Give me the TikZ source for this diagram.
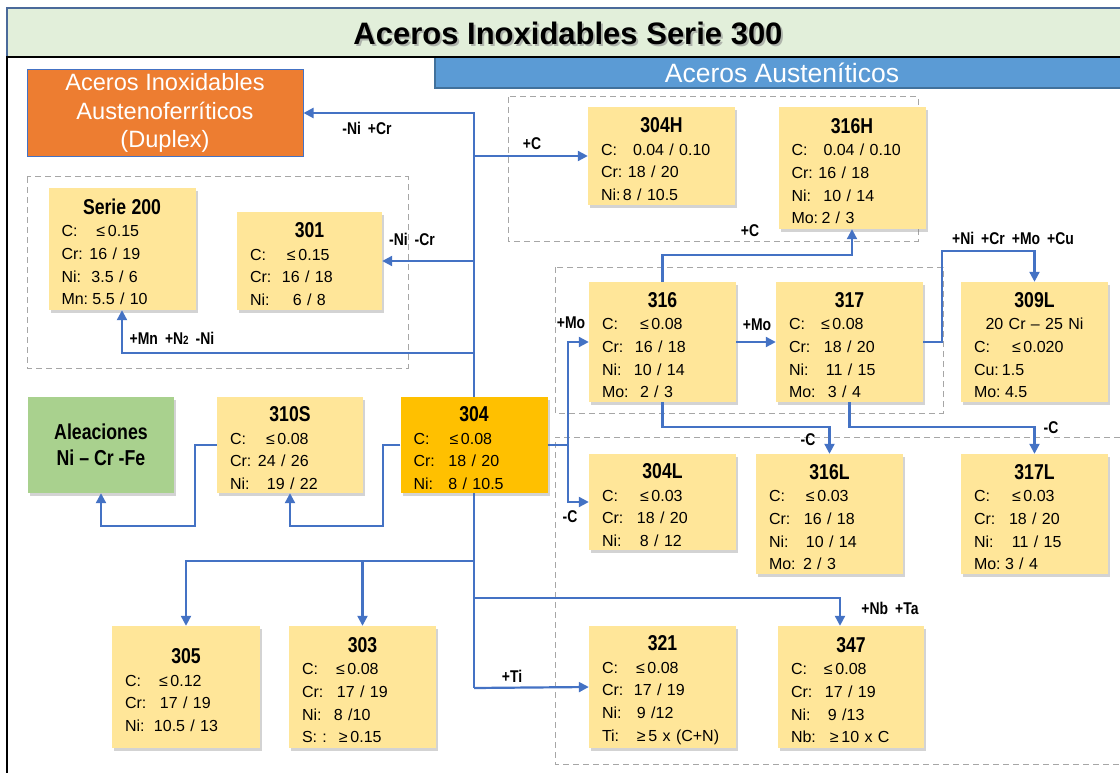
\documentclass[tikz,border=0pt]{standalone}
\usepackage{fontspec}
\setmainfont{Liberation Sans}
\newfontfamily\nb[FakeStretch=0.82]{Liberation Sans}
\usetikzlibrary{arrows.meta,shadows}
\definecolor{lineblue}{HTML}{4472C4}
\definecolor{boxyellow}{HTML}{FFE699}
\definecolor{boxorange}{HTML}{FFC000}
\definecolor{boxgreen}{HTML}{A9D18E}
\definecolor{duplexorange}{HTML}{ED7D31}
\definecolor{titlegreen}{HTML}{E2EFDA}
\definecolor{bannerblue}{HTML}{5B9BD5}
\definecolor{bannerdark}{HTML}{41719C}
\definecolor{dashgray}{HTML}{A6A6A6}
\definecolor{frameblue}{HTML}{4A6A9A}
\newcommand\ttl[1]{\rule{0pt}{21pt}\hfill{\nb\bfseries\fontsize{21.5}{22.7}\selectfont #1}\hfill\null}
\newcommand\rw[3]{\makebox[#1pt][l]{#2}#3}
\newcommand\gp{\hspace{7pt}}
\tikzset{
  conn/.style={draw=lineblue, line width=2.2pt},
  arr/.style={conn, -{Triangle[length=10pt,width=10pt]}},
  ybox/.style={fill=boxyellow, minimum width=147pt, inner xsep=13pt, inner ysep=0pt,
    text width=121pt, align=left, font=\fontsize{16}{22.7}\selectfont,
    drop shadow={opacity=0.35, shadow xshift=2pt, shadow yshift=-3pt}},
  lbl/.style={font=\nb\bfseries\fontsize{17}{18}\selectfont, inner sep=0pt},
  grp/.style={draw=dashgray, line width=1pt, dash pattern=on 6pt off 4pt},
}
\begin{document}
\begin{tikzpicture}[x=1pt,y=-1pt]
\useasboundingbox (0,0) rectangle (1120,773);
% frame and title
\fill[titlegreen] (7,8) rectangle (1125,57);
\draw[frameblue, line width=1.5pt] (7,57) -- (7,8) -- (1125,8);
\node[font=\bfseries\fontsize{31}{33}\selectfont, text=black!45, opacity=0.6] (titleshadow) at (570,35) {Aceros Inoxidables Serie 300};
\node[font=\bfseries\fontsize{31}{33}\selectfont] (title) at (568,33) {Aceros Inoxidables Serie 300};
\fill[bannerblue] (435,58) rectangle (1125,88);
\draw[bannerdark, line width=1.2pt] (435,58) -- (435,88) -- (1125,88);
\node[text=white, font=\fontsize{26.5}{28}\selectfont] (banner) at (782,73) {Aceros Austeníticos};
\draw[black, line width=2pt] (7,57) -- (1125,57);
\draw[black, line width=2pt] (7,56) -- (7,775);
% dashed groups
\draw[grp] (27,177) rectangle (408,368);
\draw[grp] (508,97) rectangle (918,241);
\draw[grp] (555,267) rectangle (943,413);
\draw[grp] (1130,437) -- (555,437) -- (555,764) -- (1130,764);
% boxes
\node[fill=duplexorange, draw=lineblue, line width=1pt, minimum width=276pt, minimum height=87pt,
  text=white, align=center, font=\fontsize{23.6}{28.5}\selectfont] (duplex) at (165,113)
  {Aceros Inoxidables\\Austenoferríticos\\(Duplex)};
\node[ybox, minimum height=122pt] (s200) at (122,249)
  {\ttl{Serie 200}\\\rw{35}{C:}{≤\,0.15}\\\rw{28}{Cr:}{16 / 19}\\\rw{30}{Ni:}{3.5 / 6}\\\rw{31}{Mn:}{5.5 / 10}};
\node[ybox, minimum width=145pt, text width=119pt, minimum height=98pt] (s301) at (309.5,261)
  {\ttl{301}\\\rw{37}{C:}{≤\,0.15}\\\rw{32}{Cr:}{16 / 18}\\\rw{43}{Ni:}{6 / 8}};
\node[ybox, minimum height=98pt] (s304H) at (661.5,156)
  {\ttl{304H}\\\rw{32}{C:}{0.04 / 0.10}\\\rw{27}{Cr:}{18 / 20}\\\rw{22}{Ni:}{8 / 10.5}};
\node[ybox, minimum height=122pt] (s316H) at (852,168)
  {\ttl{316H}\\\rw{32}{C:}{0.04 / 0.10}\\\rw{27}{Cr:}{16 / 18}\\\rw{32}{Ni:}{10 / 14}\\\rw{30}{Mo:}{2 / 3}};
\node[ybox, minimum height=120pt] (s316) at (662.5,342)
  {\ttl{316}\\\rw{38}{C:}{≤\,0.08}\\\rw{33}{Cr:}{16 / 18}\\\rw{32}{Ni:}{10 / 14}\\\rw{38}{Mo:}{2 / 3}};
\node[ybox, minimum height=120pt] (s317) at (849.5,342)
  {\ttl{317}\\\rw{32}{C:}{≤\,0.08}\\\rw{35}{Cr:}{18 / 20}\\\rw{37}{Ni:}{11 / 15}\\\rw{39}{Mo:}{3 / 4}};
\node[ybox, minimum height=120pt] (s309L) at (1034.5,342)
  {\ttl{309L}\\\hfill 20 Cr – 25 Ni\hfill\null\\\rw{38}{C:}{≤\,0.020}\\\rw{28}{Cu:}{1.5}\\\rw{31}{Mo:}{4.5}};
\node[ybox, fill=boxorange, minimum height=96pt] (s304) at (474,445)
  {\ttl{304}\\\rw{36}{C:}{≤\,0.08}\\\rw{35}{Cr:}{18 / 20}\\\rw{35}{Ni:}{8 / 10.5}};
\node[ybox, minimum width=146pt, text width=120pt, minimum height=96pt] (s310S) at (290,445)
  {\ttl{310S}\\\rw{36}{C:}{≤\,0.08}\\\rw{28}{Cr:}{24 / 26}\\\rw{37}{Ni:}{19 / 22}};
\node[fill=boxgreen, minimum width=146pt, minimum height=96pt, align=center,
  font=\nb\bfseries\fontsize{21.6}{26}\selectfont,
  drop shadow={opacity=0.35, shadow xshift=2pt, shadow yshift=-3pt}] (alea) at (101,445)
  {Aleaciones\\Ni – Cr -Fe};
\node[ybox, minimum height=96pt] (s304L) at (662.5,502)
  {\ttl{304L}\\\rw{38}{C:}{≤\,0.03}\\\rw{35}{Cr:}{18 / 20}\\\rw{38}{Ni:}{8 / 12}};
\node[ybox, minimum height=120pt] (s316L) at (829.5,514)
  {\ttl{316L}\\\rw{37}{C:}{≤\,0.03}\\\rw{35}{Cr:}{16 / 18}\\\rw{37}{Ni:}{10 / 14}\\\rw{34}{Mo:}{2 / 3}};
\node[ybox, minimum height=120pt] (s317L) at (1034.5,514)
  {\ttl{317L}\\\rw{38}{C:}{≤\,0.03}\\\rw{35}{Cr:}{18 / 20}\\\rw{38}{Ni:}{11 / 15}\\\rw{31}{Mo:}{3 / 4}};
\node[ybox, minimum width=148pt, text width=122pt, minimum height=122pt] (s305) at (186,687)
  {\ttl{305}\\\rw{34}{C:}{≤\,0.12}\\\rw{35}{Cr:}{17 / 19}\\\rw{29}{Ni:}{10.5 / 13}};
\node[ybox, minimum height=122pt] (s303) at (362.5,687)
  {\ttl{303}\\\rw{34}{C:}{≤\,0.08}\\\rw{35}{Cr:}{17 / 19}\\\rw{32}{Ni:}{8 /10}\\\rw{37}{S: :}{≥\,0.15}};
\node[ybox, minimum height=122pt] (s321) at (662.5,687)
  {\ttl{321}\\\rw{34}{C:}{≤\,0.08}\\\rw{32}{Cr:}{17 / 19}\\\rw{35}{Ni:}{9 /12}\\\rw{35}{Ti:}{≥\,5 x (C+N)}};
\node[ybox, minimum width=146pt, text width=120pt, minimum height=122pt] (s347) at (851,687)
  {\ttl{347}\\\rw{33}{C:}{≤\,0.08}\\\rw{34}{Cr:}{17 / 19}\\\rw{37}{Ni:}{9 /13}\\\rw{39}{Nb:}{≥\,10 x C}};
% connectors
\coordinate (j200) at (474,353);
\coordinate (c1) at (383,526);
\coordinate (c2) at (195,526);
\coordinate (c3) at (568,445);
\coordinate (c5) at (942,251);
\coordinate (bot) at (474,688);
\coordinate (j347) at (474,598);
\coordinate (j305) at (474,561);
\draw[arr] (s304.north) |- (duplex.east);
\draw[arr] (s304H.west -| s304.north) -- (s304H.west);
\draw[arr] (s301.east -| s304.north) -- (s301.east);
\draw[arr] (j200) -| (s200.south);
\draw[arr] (s304.west) -| (c1) -| (s310S.south);
\draw[arr] (s310S.west) -| (c2) -| (alea.south);
\draw[conn] (s304.east) -- (c3);
\draw[arr] (c3) |- (s316.west);
\draw[arr] (c3) |- (s304L.west);
\draw[arr] (s316.east) -- (s317.west);
\draw[arr] (s316.north) -- ++(0,-27) -| (s316H.south);
\draw[arr] (s317.east) -| (c5) -| (s309L.north);
\draw[arr] (s316.south) -- ++(0,25) -| (s316L.north);
\draw[arr] (s317.south) -- ++(0,25) -| (s317L.north);
\draw[conn] (s304.south) -- (bot);
\draw[arr] (bot) -- (s321.west);
\draw[arr] (j347) -| ([xshift=-11pt]s347.north);
\draw[arr] (j305) -| (s305.north);
\draw[arr] (s303.north |- j305) -- (s303.north);
% connector labels
\node[lbl] (l1) at (367,128) {-Ni\gp+Cr};
\node[lbl] (l2) at (532,144) {+C};
\node[lbl] (l3) at (412,239) {-Ni\gp-Cr};
\node[lbl] (l4) at (172,338) {+Mn\gp+N{\fontsize{12}{12}\selectfont 2}\gp-Ni};
\node[lbl] (l5) at (571,323) {+Mo};
\node[lbl] (l6) at (570,517) {-C};
\node[lbl] (l7) at (757,325) {+Mo};
\node[lbl] (l8) at (750,231) {+C};
\node[lbl] (l9) at (1013,238) {+Ni\gp+Cr\gp+Mo\gp+Cu};
\node[lbl] (l10) at (808,440) {-C};
\node[lbl] (l11) at (1051,428) {-C};
\node[lbl] (l12) at (512,676) {+Ti};
\node[lbl] (l13) at (890,608) {+Nb\gp+Ta};
\end{tikzpicture}
\end{document}
